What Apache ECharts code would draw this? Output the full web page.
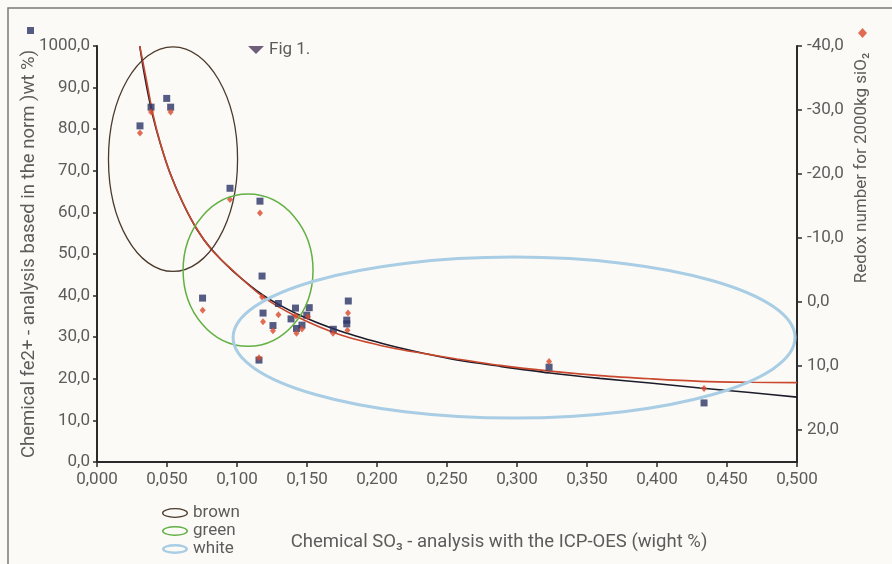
<!DOCTYPE html>
<html>
<head>
<meta charset="utf-8">
<script src="https://cdn.jsdelivr.net/npm/echarts/dist/echarts.min.js"></script>
<style>
html,body{margin:0;padding:0;background:#fbfaf6;}
#chart{width:892px;height:564px;}
</style>
</head>
<body>
<div id="chart"></div>
<script>
// ---- tick labels ----
const xTickLabels = ['0,000','0,050','0,100','0,150','0,200','0,250','0,300','0,350','0,400','0,450','0,500'];
const leftTickLabels = ['0,0','10,0','20,0','30,0','40,0','50,0','60,0','70,0','80,0','90,0','1000,0'];
const rightTickLabels = ['-40,0','-30,0','-20,0','-10,0','0,0','10,0','20,0'];

// ---- Fe2+ analysis (left axis, squares) ----
const feX = [0.0307,0.0386,0.0498,0.0526,0.0950,0.1164,0.0754,0.1179,0.1186,0.1257,0.1296,0.1157,0.1386,0.1418,0.1425,0.1464,0.1498,0.1516,0.1688,0.1795,0.1784,0.1784,0.3229,0.4336];
const feY = [80.8,85.3,87.4,85.3,65.8,62.7,39.4,44.7,35.8,32.8,38.1,24.5,34.4,37.0,32.1,32.9,35.3,37.1,31.9,38.7,34.1,33.2,22.8,14.2];

// ---- Redox number (right axis, diamonds) ----
const redoxX = [0.0307,0.0386,0.0526,0.0950,0.1164,0.0755,0.1179,0.1186,0.1257,0.1296,0.1157,0.1425,0.1464,0.1421,0.1507,0.1686,0.1793,0.1789,0.3229,0.4336];
const redoxY = [-26.4,-29.7,-29.7,-16.0,-13.9,1.3,-0.8,3.1,4.5,2.0,8.7,4.9,4.2,2.2,2.3,4.9,1.7,4.4,9.3,13.5];

// ---- trend curves ----
const fitX = [0.0305,0.0329,0.0364,0.0400,0.0450,0.0521,0.0614,0.0714,0.0821,0.0971,0.1186,0.1429,0.1736,0.2093,0.2350,0.2571,0.2879,0.3236,0.3593,0.3950,0.4307,0.4664,0.5000];
const feFitY = [100.0,95.0,88.6,83.0,76.8,69.5,62.2,55.9,51.0,45.9,40.1,35.6,31.5,28.0,26.0,24.5,23.0,21.4,20.1,19.0,17.8,16.7,15.6];
const redoxFitY = [-40.0,-37.4,-33.4,-29.3,-25.0,-20.2,-15.5,-11.4,-8.1,-4.9,-0.8,2.3,5.1,7.1,8.1,8.9,9.9,10.8,11.5,12.0,12.4,12.55,12.6];

// ---- group ellipses (left-axis data units) ----
const ellipseNames = ['brown','green','white'];
const ellipseCenterX = [0.0543,0.1079,0.2979];
const ellipseCenterY = [72.8,46.1,29.9];
const ellipseRadiusX = [0.0461,0.0464,0.2007];
const ellipseRadiusY = [27.0,18.3,19.35];

const FONT = 'Roboto';
const TXT = '#5c5c5c';
const ellipseColors = ['#4b3a2c','#62b044','#a8cde4'];
const ellipseWidths = [1.3,1.5,3];
const ringIcons = [
  'path://M0,5 A13,5 0 1,1 26,5 A13,5 0 1,1 0,5 Z M1.3,5 A11.7,3.7 0 1,0 24.7,5 A11.7,3.7 0 1,0 1.3,5 Z',
  'path://M0,5 A13,5 0 1,1 26,5 A13,5 0 1,1 0,5 Z M1.5,5 A11.5,3.5 0 1,0 24.5,5 A11.5,3.5 0 1,0 1.5,5 Z',
  'path://M0,5 A13,5 0 1,1 26,5 A13,5 0 1,1 0,5 Z M2.6,5 A10.4,2.4 0 1,0 23.4,5 A10.4,2.4 0 1,0 2.6,5 Z'
];

const zip = (a, b) => a.map((v, i) => [v, b[i]]);

const ellipseSeries = ellipseNames.map((n, i) => ({
  name: n,
  type: 'custom',
  xAxisIndex: 0,
  yAxisIndex: 0,
  z: 5,
  itemStyle: { color: ellipseColors[i] },
  data: [[ellipseCenterX[i], ellipseCenterY[i], ellipseRadiusX[i], ellipseRadiusY[i]]],
  encode: { x: 0, y: 1 },
  renderItem: function (params, api) {
    const c = api.coord([api.value(0), api.value(1)]);
    const s = api.size([api.value(2), api.value(3)]);
    return {
      type: 'ellipse',
      shape: { cx: c[0], cy: c[1], rx: s[0], ry: s[1] },
      style: { fill: 'none', stroke: ellipseColors[i], lineWidth: ellipseWidths[i] }
    };
  }
}));

const chart = echarts.init(document.getElementById('chart'), null, { renderer: 'canvas' });
chart.setOption({
  backgroundColor: '#fbfaf6',
  animation: false,
  textStyle: { fontFamily: FONT },
  grid: { left: 97, right: 95, top: 46, bottom: 102, containLabel: false },
  legend: [
    {
      data: [{ name: 'Fig 1.', icon: 'path://M0,0 L14,0 L7,7 Z' }],
      left: 243, top: 36, itemWidth: 16, itemHeight: 8, itemGap: 4,
      textStyle: { fontSize: 17, color: TXT, fontFamily: FONT, lineHeight: 18 },
      selectedMode: false
    },
    {
      data: [{ name: 'Fe2+', icon: 'rect' }],
      left: 22, top: 22, itemWidth: 7, itemHeight: 7,
      formatter: function () { return ''; },
      textStyle: { fontSize: 6, lineHeight: 7 },
      selectedMode: false
    },
    {
      data: [{ name: 'Redox', icon: 'diamond' }],
      left: 853, top: 23, itemWidth: 9, itemHeight: 10,
      formatter: function () { return ''; },
      textStyle: { fontSize: 6, lineHeight: 10 },
      selectedMode: false
    },
    {
      data: ellipseNames.map((n, i) => ({ name: n, icon: ringIcons[i] })),
      orient: 'vertical', left: 157, top: 499, height: 120, itemWidth: 26, itemHeight: 10, itemGap: 0,
      textStyle: { fontSize: 17, color: TXT, fontFamily: FONT, lineHeight: 18 },
      selectedMode: false
    }
  ],
  xAxis: {
    type: 'value', min: 0, max: 0.5, interval: 0.05,
    axisLine: { show: true, onZero: false, lineStyle: { color: '#2a2a2a', width: 2 } },
    axisTick: { show: true, length: 5, lineStyle: { color: '#2a2a2a', width: 1.5 } },
    splitLine: { show: false },
    axisLabel: {
      margin: 9, fontSize: 17, color: TXT, fontFamily: FONT,
      formatter: function (v) { return xTickLabels[Math.round(v / 0.05)]; }
    },
    name: 'Chemical SO₃ - analysis with the ICP-OES (wight %)',
    nameLocation: 'middle', nameGap: 71, nameMoveOverlap: false,
    nameTextStyle: { fontSize: 18.5, color: TXT, fontFamily: FONT, padding: [0, 0, 0, 104] }
  },
  yAxis: [
    {
      type: 'value', position: 'left', min: 0, max: 100, interval: 10,
      axisLine: { show: true, onZero: false, lineStyle: { color: '#2a2a2a', width: 2 } },
      axisTick: { show: true, length: 4, lineStyle: { color: '#2a2a2a', width: 1.5 } },
      splitLine: { show: false },
      axisLabel: {
        margin: 7, fontSize: 17, color: TXT, fontFamily: FONT,
        formatter: function (v) { return leftTickLabels[Math.round(v / 10)]; }
      },
      name: 'Chemical fe2+ - analysis based in the norm )wt %)',
      nameLocation: 'middle', nameGap: 58, nameRotate: 90, nameMoveOverlap: false,
      nameTextStyle: { fontSize: 18.5, color: TXT, fontFamily: FONT }
    },
    {
      type: 'value', position: 'right', inverse: true, min: -40, max: 25, interval: 10,
      axisLine: { show: true, onZero: false, lineStyle: { color: '#2a2a2a', width: 2 } },
      axisTick: { show: true, length: 5, lineStyle: { color: '#2a2a2a', width: 1.5 } },
      splitLine: { show: false },
      axisLabel: {
        margin: 10, fontSize: 17, color: TXT, fontFamily: FONT, showMaxLabel: false,
        formatter: function (v) { const t = rightTickLabels[Math.round((v + 40) / 10)]; return t === undefined ? '' : t; }
      }
    }
  ],
  graphic: [
    {
      type: 'rect', z: -10, silent: true,
      shape: { x: 8, y: 8, width: 900, height: 600 },
      style: { fill: 'none', stroke: '#7a7a7a', lineWidth: 1.5 }
    },
    {
      type: 'text', x: 862, y: 168, rotation: Math.PI / 2, silent: true,
      style: {
        text: 'Redox number for 2000kg siO₂', fill: TXT,
        fontSize: 17, fontFamily: FONT,
        align: 'center', verticalAlign: 'middle'
      }
    }
  ],
  series: [
    {
      name: 'Fig 1.', type: 'scatter', data: [],
      itemStyle: { color: '#4b3a5c' }
    },
    {
      name: 'feFit', type: 'line', yAxisIndex: 0, data: zip(fitX, feFitY),
      showSymbol: false, smooth: 0.3, z: 2,
      lineStyle: { color: '#1c1c2a', width: 1.6 }
    },
    {
      name: 'redoxFit', type: 'line', yAxisIndex: 1, data: zip(fitX, redoxFitY),
      showSymbol: false, smooth: 0.3, z: 2,
      lineStyle: { color: '#c9482e', width: 1.6 }
    },
    {
      name: 'Fe2+', type: 'scatter', yAxisIndex: 0, data: zip(feX, feY),
      symbol: 'rect', symbolSize: 7, z: 3,
      itemStyle: { color: '#2c3566' }
    },
    {
      name: 'Redox', type: 'scatter', yAxisIndex: 1, data: zip(redoxX, redoxY),
      symbol: 'diamond', symbolSize: [6, 7], z: 4,
      itemStyle: { color: '#d94a2a' }
    }
  ].concat(ellipseSeries)
});
</script>
</body>
</html>
